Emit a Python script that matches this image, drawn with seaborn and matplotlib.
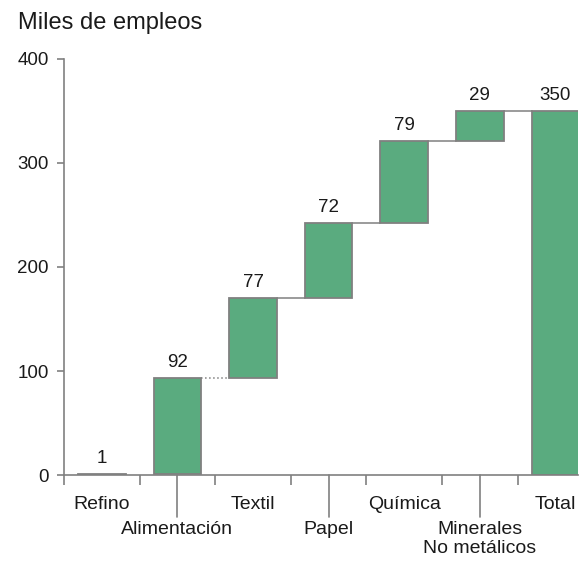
import numpy as np
import pandas as pd
import matplotlib
matplotlib.use("Agg")
import matplotlib.pyplot as plt
import seaborn as sns

# Waterfall: empleos por sector (miles)
sectores = ["Refino", "Alimentación", "Textil", "Papel", "Química",
            "Minerales\nNo metálicos", "Total"]
valores = [1, 92, 77, 72, 79, 29, 350]
es_total = [False, False, False, False, False, False, True]
y_ticks = [0, 100, 200, 300, 400]

sns.set_theme(style="white")
plt.rcParams["font.family"] = ["Liberation Sans", "DejaVu Sans"]

acum = np.cumsum([v for v, t in zip(valores, es_total) if not t])
bases = list(np.concatenate([[0], acum[:-1]])) + [0]
tops = [b + v for b, v in zip(bases, valores)]

df = pd.DataFrame({"sector": sectores, "valor": valores, "base": bases})

verde = "#5aab7f"
gris = "#808080"
texto = "#1a1a1a"

fig = plt.figure(figsize=(5.81, 5.61), dpi=100)
ax = fig.add_axes([64 / 581, 86 / 561, (581 * 0.995 - 64) / 581, 416 / 561])

ancho = 0.63
sns.barplot(data=df, x="sector", y="valor", bottom=df["base"].values,
            color=verde, saturation=1, width=ancho, edgecolor=gris,
            linewidth=1.3, ax=ax)

# conectores
for i in range(1, len(valores) - 1):
    ls = ":" if i == 1 else "-"
    ax.plot([i + ancho / 2, i + 1 - ancho / 2], [tops[i], tops[i]],
            color=gris, lw=1.1, ls=ls, zorder=1)

# etiquetas de valor
for i, (v, t) in enumerate(zip(valores, tops)):
    ax.annotate(str(v), (i, t), xytext=(0, 5), textcoords="offset points",
                ha="center", va="bottom", fontsize=13.5, color=texto)

ax.set_xlim(-0.5, 6.3)
ax.set_ylim(0, 400)
ax.set_yticks(y_ticks)
ax.set_xlabel("")
ax.set_ylabel("")

sns.despine(ax=ax)
for s in ["left", "bottom"]:
    ax.spines[s].set_color(gris)
    ax.spines[s].set_linewidth(1.2)

# fila superior: etiquetas de los ejes; fila inferior: textos con marca larga
arriba = [s if i % 2 == 0 else "" for i, s in enumerate(sectores)]
ax.set_xticks(range(len(sectores)))
ax.set_xticklabels(arriba, fontsize=14, color=texto)
ax.set_xticks(np.arange(-0.5, 6.0, 1.0), minor=True)
ax.tick_params(axis="x", which="major", length=0, pad=15)
ax.tick_params(axis="x", which="minor", bottom=True, length=7, width=1.2,
               color=gris, direction="out")
ax.tick_params(axis="y", left=True, length=5, width=1.2, color=gris,
               labelsize=13.5, labelcolor=texto, pad=6)

trans = ax.get_xaxis_transform()
for i in range(1, len(sectores), 2):
    ax.plot([i, i], [0, -0.101], transform=trans, color=gris, lw=1.2,
            clip_on=False)
    ax.annotate(sectores[i], (i, 0), xycoords=trans, xytext=(0, -33),
                textcoords="offset points", ha="center", va="top",
                fontsize=14, color=texto, linespacing=1.2)

fig.text(18 / 581, 1 - 29 / 561, "Miles de empleos", fontsize=17,
         color=texto, va="baseline", ha="left")

fig.savefig("out.png", dpi=100, facecolor="white")
